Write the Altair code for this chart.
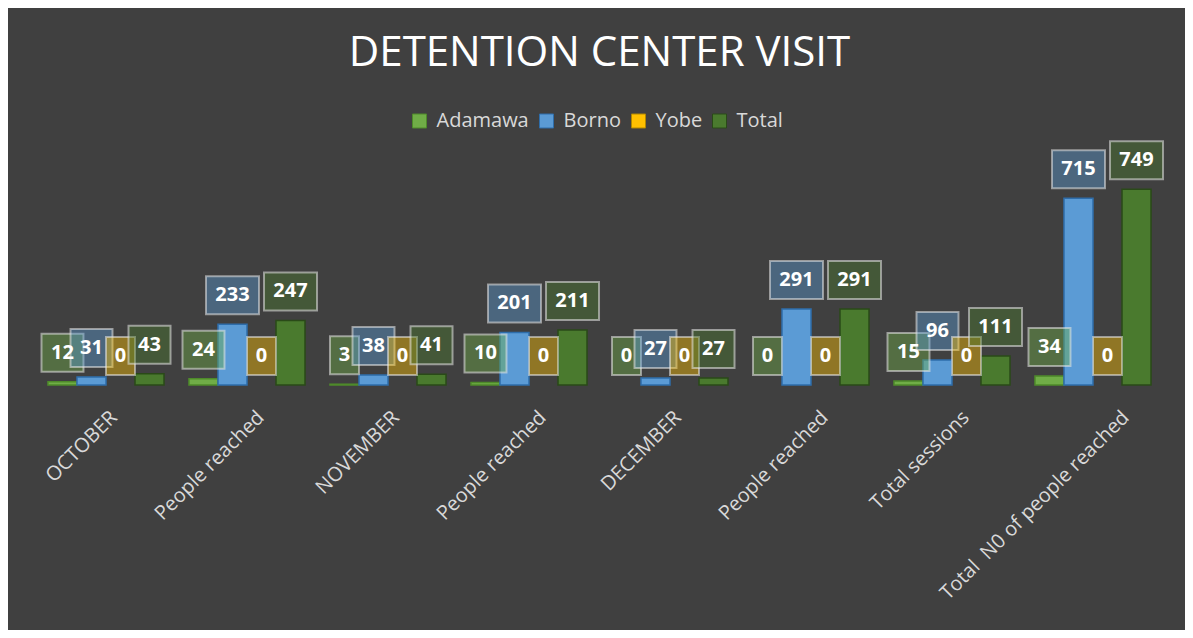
import json
import altair as alt
import pandas as pd

categories = ["OCTOBER", "People reached", "NOVEMBER", "People reached",
              "DECEMBER", "People reached", "Total sessions",
              "Total\u00a0 N0 of people reached"]
series = ["Adamawa", "Borno", "Yobe", "Total"]
adamawa = [12, 24, 3, 10, 0, 0, 15, 34]
borno = [31, 233, 38, 201, 27, 291, 96, 715]
yobe = [0, 0, 0, 0, 0, 0, 0, 0]
total = [43, 247, 41, 211, 27, 291, 111, 749]

bar_colors = ["#70AD47", "#5B9BD5", "#FFC000", "#4A7A2E"]
edge_colors = ["#4E8A2A", "#2E6DAA", "#B08600", "#2A4A18"]

rows = []
for s, vals in zip(series, [adamawa, borno, yobe, total]):
    for i, v in enumerate(vals):
        rows.append({"idx": i, "series": s, "value": v, "digits": len(str(v))})
df = pd.DataFrame(rows)

FONT = "Open Sans"
label_expr = json.dumps(categories) + "[datum.value]"

label_offset = {
    "condition": [
        {"test": "datum.value == 7", "value": 33},
        {"test": "datum.value == 0 || datum.value == 2 || datum.value == 4", "value": 8},
    ],
    "value": 14,
}

x_enc = alt.X("idx:O", title=None,
              scale=alt.Scale(paddingInner=0.177, paddingOuter=0.0885),
              axis=alt.Axis(labelExpr=label_expr, labelAngle=-45, labelAlign="right",
                            labelBaseline="middle", labelColor="#D9D9D9", labelFontSize=20,
                            labelFont=FONT, ticks=False, domain=False, labelPadding=29,
                            labelOffset=label_offset, labelLimit=500))
y_enc = alt.Y("value:Q", title=None, axis=None, scale=alt.Scale(domain=[0, 800]))
xoff = alt.XOffset("series:N", sort=series, scale=alt.Scale(paddingInner=0, paddingOuter=0))

color_scale = alt.Scale(domain=series, range=bar_colors)

bars = alt.Chart(df).mark_bar(strokeWidth=1.5).encode(
    x=x_enc, xOffset=xoff, y=y_enc,
    color=alt.Color("series:N", scale=color_scale, sort=series, title=None,
                    legend=alt.Legend(orient="none", direction="horizontal",
                                      legendX=374, legendY=-65,
                                      symbolType="square", symbolSize=196,
                                      symbolStrokeWidth=1, labelFontSize=20,
                                      labelColor="#D9D9D9", labelFont=FONT,
                                      columnPadding=7, labelOffset=7)),
    stroke=alt.Stroke("series:N", scale=alt.Scale(domain=series, range=edge_colors),
                      legend=None),
    strokeOpacity=alt.condition("datum.value > 0", alt.value(1), alt.value(0)),
)

paths = [
    "M-0.725,-2.4L0.725,-2.4L0.725,-0.5L-0.725,-0.5Z",
    "M-1.05,-2.4L1.05,-2.4L1.05,-0.5L-1.05,-0.5Z",
    "M-1.325,-2.4L1.325,-2.4L1.325,-0.5L-1.325,-0.5Z",
]

boxes = alt.Chart(df).mark_point(filled=True, size=1600, fillOpacity=0.42,
                                 stroke="#E8E8E8", strokeOpacity=0.55,
                                 strokeWidth=2, opacity=1).encode(
    x=x_enc, xOffset=xoff, y=y_enc,
    fill=alt.Fill("series:N", scale=color_scale, legend=None),
    shape=alt.Shape("digits:O", scale=alt.Scale(domain=[1, 2, 3], range=paths),
                    legend=None),
)

texts = alt.Chart(df).mark_text(dy=-29, fontSize=20, fontWeight="bold", color="white",
                                font=FONT, baseline="middle").encode(
    x=x_enc, xOffset=xoff, y=y_enc, text="value:Q",
)

chart = alt.layer(bars, boxes, texts).properties(
    width=1128, height=209,
    title=alt.TitleParams("DETENTION CENTER VISIT", fontSize=42, color="white",
                          font=FONT, fontWeight="normal", anchor="middle", offset=36),
    background="#404040",
    padding={"left": 27.5, "top": 168, "right": 21.5, "bottom": 245},
    autosize=alt.AutoSizeParams(type="none"),
).configure_view(stroke=None)

chart.save("out.html", embed_options={"renderer": "svg", "actions": False})
